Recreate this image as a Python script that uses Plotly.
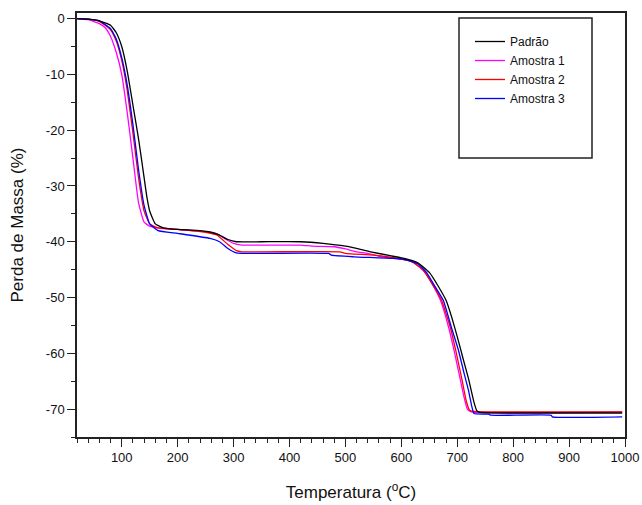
import plotly.graph_objects as go

# Thermogravimetric curves: temperature (°C) vs. mass loss (%)
padrao_T = [20, 40, 60, 80, 90, 100, 110, 120, 130, 140, 145, 150, 160, 175, 200, 240, 260, 275, 290, 305,
            350, 420, 460, 500, 520, 545, 580, 610, 630, 650, 665, 680, 690, 700, 710, 720, 730, 735, 740, 800, 995]
padrao_m = [0, -0.1, -0.4, -1.2, -2.5, -5.0, -9.5, -15.5, -21.5, -28.5, -32.0, -34.5, -36.8, -37.5, -37.8, -38.0,
            -38.3, -38.8, -39.6, -40.0, -40.0, -40.0, -40.3, -40.8, -41.2, -41.8, -42.5, -43.1, -43.8, -45.5, -47.8,
            -50.5, -53.5, -57.0, -60.8, -64.5, -68.8, -70.3, -70.6, -70.7, -70.7]

am1_T = [20, 40, 60, 70, 80, 90, 100, 110, 120, 130, 140, 150, 170, 200, 250, 270, 285, 300, 315, 420, 440, 480,
         500, 520, 540, 560, 600, 620, 640, 655, 670, 685, 695, 705, 712, 718, 725, 995]
am1_m = [0, -0.2, -0.9, -1.6, -3.2, -6.0, -10.0, -17.0, -25.0, -33.0, -36.5, -37.2, -37.6, -37.8, -38.2, -38.6,
         -39.5, -40.3, -40.6, -40.6, -40.8, -40.9, -41.3, -41.8, -42.1, -42.6, -43.1, -43.6, -45.2, -47.5, -50.5,
         -55.5, -59.8, -64.5, -67.8, -70.0, -70.5, -70.5]

am2_T = [20, 40, 60, 80, 90, 100, 110, 120, 130, 140, 150, 165, 200, 250, 270, 290, 305, 315, 490, 500, 550, 600,
         620, 640, 655, 672, 688, 698, 708, 716, 722, 728, 995]
am2_m = [0, -0.1, -0.5, -2.0, -4.0, -7.5, -13.0, -20.5, -28.5, -34.5, -36.8, -37.5, -37.8, -38.3, -38.8, -40.5,
         -41.6, -41.8, -41.8, -42.1, -42.4, -43.1, -43.6, -45.2, -47.5, -50.5, -55.5, -59.8, -64.5, -68.5, -70.2,
         -70.4, -70.5]

am3_T = [20, 40, 60, 80, 90, 100, 110, 120, 130, 140, 150, 165, 200, 258, 275, 290, 305, 320, 470, 475, 515, 585,
         610, 630, 645, 660, 675, 690, 702, 712, 720, 726, 730, 756, 760, 868, 870, 995]
am3_m = [0, -0.1, -0.4, -1.8, -3.6, -7.0, -12.0, -19.0, -27.0, -33.5, -36.8, -38.0, -38.5, -39.4, -40.0, -41.2,
         -42.0, -42.1, -42.1, -42.4, -42.7, -43.0, -43.3, -44.0, -45.5, -48.0, -50.5, -55.5, -59.4, -63.5, -66.6,
         -69.5, -70.8, -70.9, -71.1, -71.1, -71.4, -71.4]

x_ticks = [100, 200, 300, 400, 500, 600, 700, 800, 900, 1000]
y_ticks = [0, -10, -20, -30, -40, -50, -60, -70]
y_labels = ["0", "-10", "-20", "-30", "-40", "-50", "-60", "-70"]

# (name, x, y, colour, legend position); Padrão is drawn last so it sits on top
series = [
    ("Amostra 1", am1_T, am1_m, "#FF00FF", 2),
    ("Amostra 2", am2_T, am2_m, "#FF0000", 3),
    ("Amostra 3", am3_T, am3_m, "#0000FF", 4),
    ("Padrão", padrao_T, padrao_m, "#000000", 1),
]

fig = go.Figure()
for name, t, m, color, rank in series:
    fig.add_trace(go.Scatter(x=t, y=m, mode="lines", name=name, legendrank=rank,
                             line=dict(color=color, width=1.3, shape="spline", smoothing=0.4)))

font_family = "Arial, Liberation Sans, sans-serif"
axis_common = dict(
    showline=True, linecolor="#222222", linewidth=1.5, mirror=True,
    ticks="outside", ticklen=8, tickwidth=1.2, tickcolor="#222222",
    showgrid=False, zeroline=False, automargin=False,
    tickfont=dict(family=font_family, size=13, color="#111111"),
)

fig.update_layout(
    width=642, height=505,
    margin=dict(l=77, r=17, t=13, b=68),
    paper_bgcolor="white", plot_bgcolor="white",
    font=dict(family=font_family, color="#111111"),
    xaxis=dict(range=[20, 1000], tickvals=x_ticks,
               minor=dict(dtick=20, tick0=0, ticks="outside", ticklen=4, tickcolor="#222222", showgrid=False),
               title=dict(text="Temperatura (<sup>o</sup>C)", font=dict(size=17, family=font_family), standoff=22),
               **axis_common),
    yaxis=dict(range=[-75, 1], tickvals=y_ticks, ticktext=y_labels,
               minor=dict(dtick=5, tick0=0, ticks="outside", ticklen=4, tickcolor="#222222", showgrid=False),
               title=dict(text="Perda de Massa (%)", font=dict(size=17, family=font_family), standoff=18),
               **axis_common),
    showlegend=True,
    legend=dict(x=(470 - 77) / 548, y=1 - (27 - 13) / 424, xanchor="left", yanchor="top",
                bgcolor="rgba(0,0,0,0)", borderwidth=0,
                font=dict(size=12, family=font_family, color="#111111"),
                traceorder="normal", tracegroupgap=0),
)

# Legend frame
fig.add_shape(type="rect", xref="paper", yref="paper",
              x0=(459 - 77) / 548, x1=(592 - 77) / 548,
              y0=1 - (158 - 13) / 424, y1=1 - (18 - 13) / 424,
              line=dict(color="#222222", width=1.5), fillcolor="rgba(0,0,0,0)", layer="above")

fig.write_html("out.html")
